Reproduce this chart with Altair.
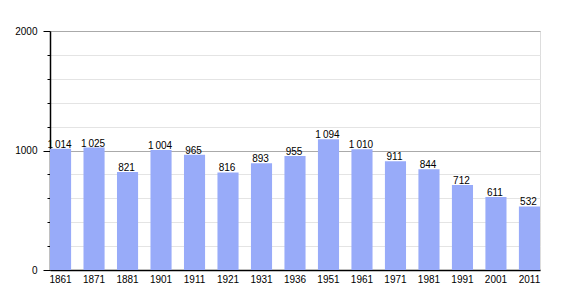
import altair as alt
import pandas as pd

years = ["1861", "1871", "1881", "1901", "1911", "1921", "1931", "1936",
         "1951", "1961", "1971", "1981", "1991", "2001", "2011"]
population = [1014, 1025, 821, 1004, 965, 816, 893, 955,
              1094, 1010, 911, 844, 712, 611, 532]
major_ticks = [0, 1000, 2000]
minor_ticks = [200, 400, 600, 800, 1200, 1400, 1600, 1800]

labels = [f"{v:,}".replace(",", "\u2009") for v in population]
df = pd.DataFrame({"year": years, "pop": population, "label": labels})

FONT = "Liberation Sans"

xenc = alt.X("year:N", sort=years, title=None,
             scale=alt.Scale(paddingInner=0.37, paddingOuter=0, align=0),
             axis=alt.Axis(labelAngle=0, ticks=False, domainColor="#000000",
                           labelFont=FONT, labelFontSize=10, labelColor="#000000",
                           labelPadding=4, domainWidth=1.5))
yscale = alt.Scale(domain=[0, 2000], nice=False)

minor = alt.Chart(df).mark_bar(opacity=0).encode(
    x=xenc,
    y=alt.Y("pop:Q", scale=yscale, title=None,
            axis=alt.Axis(orient="left", values=minor_ticks, labels=False,
                          tickSize=3, tickColor="#000000", domain=False,
                          grid=True, gridColor="#e4e4e4", gridWidth=1)),
)

bars = alt.Chart(df).mark_bar(color="#98abf9").encode(
    x=xenc,
    y=alt.Y("pop:Q", scale=yscale, title=None,
            axis=alt.Axis(orient="left", values=major_ticks, format="d",
                          tickSize=7, tickColor="#000000", domainColor="#000000",
                          domainWidth=1.5,
                          labelFont=FONT, labelFontSize=10, labelColor="#000000",
                          labelPadding=6,
                          grid=True, gridColor="#aaaaaa", gridWidth=1)),
)

text = alt.Chart(df).mark_text(baseline="bottom", dy=1, dx=-1, font=FONT, fontSize=10,
                               color="#000000").encode(
    x=alt.X("year:N", sort=years, bandPosition=0.5, title=None),
    y=alt.Y("pop:Q", scale=yscale, axis=None),
    text="label:N",
)

chart = alt.layer(minor, bars, text).resolve_axis(y="independent").properties(
    width=490, height=239,
    autosize=alt.AutoSizeParams(type="none"),
    padding={"left": 50, "top": 31, "right": 30, "bottom": 30},
).configure_view(stroke=None).configure(background="#ffffff")

chart.save("out.html", embed_options={"renderer": "svg", "actions": False})
